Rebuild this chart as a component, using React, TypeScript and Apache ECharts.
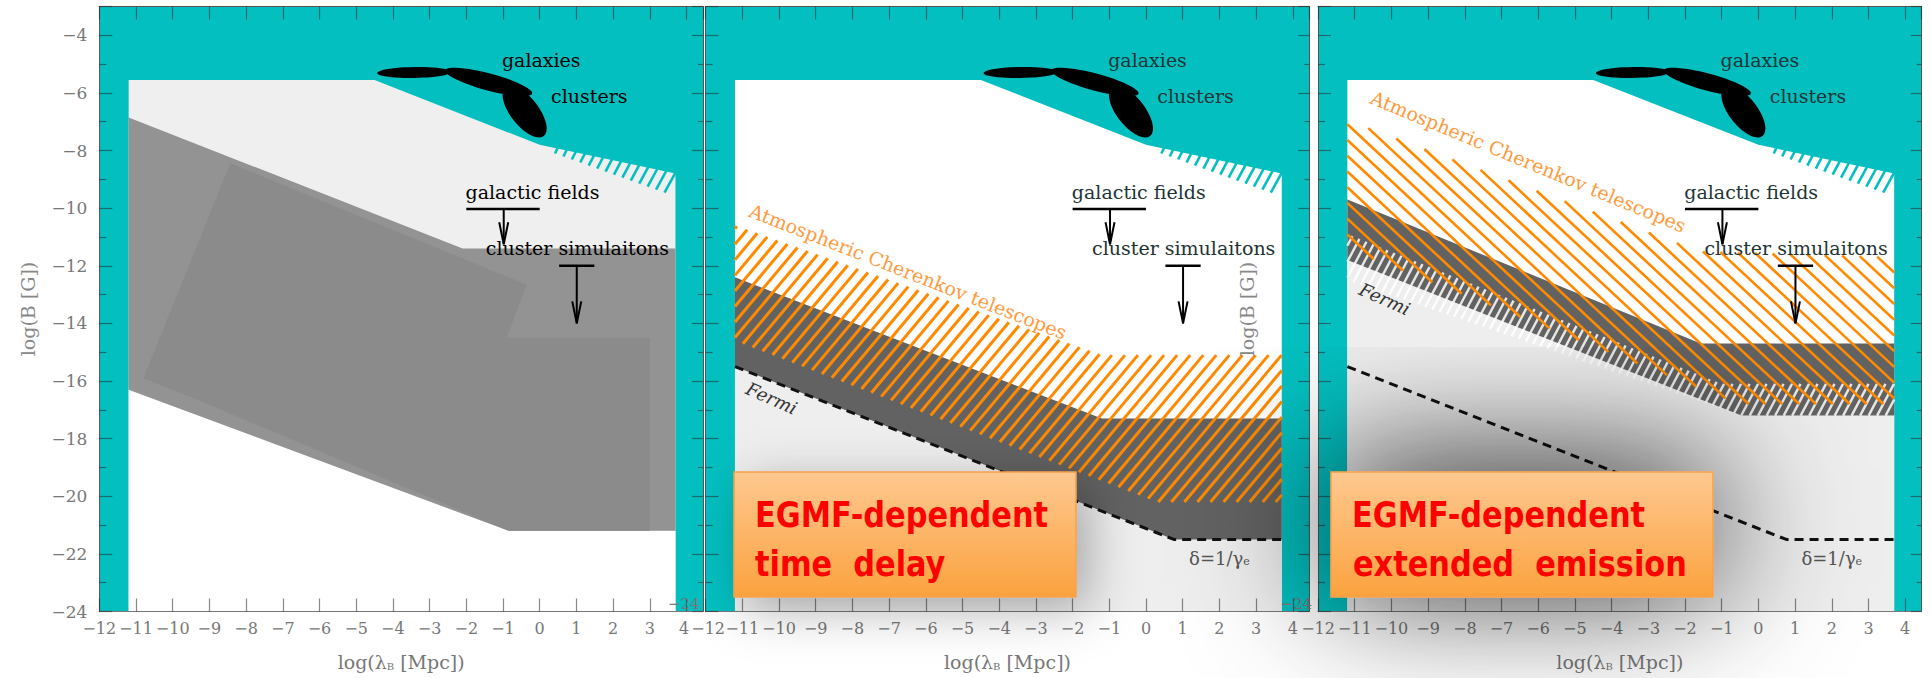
import React, { useEffect, useRef } from 'react';
import * as echarts from 'echarts';

// shared axis ranges: log(lambda_B / Mpc) and log(B / G)
const X_MIN = -12;
const X_MAX = 4.45;
const Y_MIN = -24;
const Y_MAX = -3;

// region not excluded by galaxy / cluster fields
const allowedRegion = [[-11.2, -24], [-11.2, -5.55], [-4.5, -5.55], [0, -7.8], [3.7, -8.8], [3.7, -24]];
// hatched part of the upper limit (cluster fields)
const clusterEdge = [[0, -7.8], [3.7, -8.8]];

// left panel: combined constraint band
const constraintBand = [[-11.2, -6.85], [-2.1, -11.4], [3.7, -11.4], [3.7, -21.2], [-0.85, -21.2], [-11.2, -16.3]];
const constraintCore = [[-8.43, -8.44], [-0.35, -12.66], [-0.9, -14.5], [3.0, -14.5], [3.0, -21.2], [-0.85, -21.2], [-9.23, -16.7], [-10.8, -15.9]];
const belowConstraint = [[-11.2, -16.3], [-0.85, -21.2], [3.7, -21.2], [3.7, -24], [-11.2, -24]];

// Fermi lower limit (delta = 1/gamma_e)
const fermiLimit = [[-11.2, -15.5], [0.76, -21.5], [3.7, -21.5]];
const fermiExcluded = [[-11.2, -15.5], [0.76, -21.5], [3.7, -21.5], [3.7, -24], [-11.2, -24]];

// middle panel: time delay
const delayBand = [[-11.2, -12.4], [-1.2, -17.3], [3.7, -17.3], [3.7, -21.5], [0.76, -21.5], [-11.2, -15.5]];
const delayCherenkov = [[-11.2, -10.6], [-1.2, -15.1], [3.7, -15.1], [3.7, -20.2], [0.3, -20.2], [-11.2, -14.6]];

// right panel: extended emission
const emissionBand = [[-11.2, -9.7], [-1.57, -14.7], [3.7, -14.7], [3.7, -17.2], [-0.46, -17.2], [-11.2, -11.8]];
const emissionStripes = [[-11.2, -10.9], [-1.0, -16.1], [3.7, -16.1], [3.7, -17.2], [-0.46, -17.2], [-11.2, -12.5]];
const emissionBelow = [[-11.2, -11.8], [-0.46, -17.2], [3.7, -17.2], [3.7, -24], [-11.2, -24]];
const emissionCherenkov = [[-11.2, -6.95], [-1.6, -11.5], [3.7, -11.7], [3.7, -16.8], [-0.5, -16.8], [-11.2, -11.4]];

// field labels: [x, y, text]
const fieldLabels: [number, number, string][] = [
  [-1.03, -4.85, 'galaxies'],
  [0.31, -6.12, 'clusters'],
  [-2.02, -9.45, 'galactic fields'],
  [-1.47, -11.39, 'cluster simulaitons'],
];
// upper-limit markers: bar [xFrom, xTo, y], arrow [x, yFrom, yTo]
const limitBars = [[-2.0, 0.0, -10.03], [0.53, 1.49, -12.0]];
const limitArrows = [[-0.98, -10.03, -11.25], [1.01, -12.0, -14.0]];
// galaxy / cluster field blobs: centres [x, y]
const blobCentres = [[-3.42, -5.29], [-1.39, -5.62], [-0.41, -6.65]];

// band labels: [x, y]
const delayCherenkovLabel = [-6.48, -12.2];
const emissionCherenkovLabel = [-6.27, -8.38];
const delayFermiLabel = [-10.2, -16.6];
const emissionFermiLabel = [-10.18, -13.15];
const deltaLabel = [2.0, -22.15];

const TEAL = '#03bfc0';
const ORANGE = '#ff8a00';
const SERIF = '"DejaVu Serif", "Liberation Serif", serif';
const AXIS_GREY = '#777';
const TICK = 'rgba(40,40,40,0.55)';

const GRID_LEFT = [99.3, 705.6, 1318];
const GRID_TOP = 6.5;
const GRID_W = 603.7;
const GRID_H = 605;

type Pt = number[];

function base(g: number, z: number) {
  return { type: 'custom', xAxisIndex: 2 * g, yAxisIndex: 2 * g, z, clip: true, silent: true, data: [[0, -10]] };
}

function polygonSeries(g: number, pts: Pt[], fill: string, z = 1) {
  return {
    ...base(g, z),
    renderItem: (_p: any, api: any) => ({
      type: 'polygon',
      shape: { points: pts.map((p) => api.coord(p)) },
      style: { fill },
    }),
  };
}

// straight hatch lines at a pixel angle, clipped to a polygon
function hatchGroup(P: number[][], angleDeg: number, spacing: number, stroke: string, lineWidth: number) {
  const a = (angleDeg * Math.PI) / 180;
  const d = [Math.cos(a), Math.sin(a)];
  const n = [-d[1], d[0]];
  let cmin = Infinity;
  let cmax = -Infinity;
  P.forEach((p) => {
    const c = p[0] * n[0] + p[1] * n[1];
    cmin = Math.min(cmin, c);
    cmax = Math.max(cmax, c);
  });
  const children: any[] = [];
  for (let c = Math.ceil(cmin / spacing) * spacing; c <= cmax; c += spacing) {
    const o = [n[0] * c, n[1] * c];
    const ts: number[] = [];
    for (let i = 0; i < P.length; i++) {
      const A = P[i];
      const B = P[(i + 1) % P.length];
      const ca = A[0] * n[0] + A[1] * n[1] - c;
      const cb = B[0] * n[0] + B[1] * n[1] - c;
      if (ca < 0 !== cb < 0) {
        const s = ca / (ca - cb);
        const X = A[0] + (B[0] - A[0]) * s;
        const Y = A[1] + (B[1] - A[1]) * s;
        ts.push((X - o[0]) * d[0] + (Y - o[1]) * d[1]);
      }
    }
    ts.sort((u, v) => u - v);
    for (let k = 0; k + 1 < ts.length; k += 2) {
      children.push({
        type: 'line',
        shape: {
          x1: o[0] + d[0] * ts[k], y1: o[1] + d[1] * ts[k],
          x2: o[0] + d[0] * ts[k + 1], y2: o[1] + d[1] * ts[k + 1],
        },
        style: { stroke, lineWidth },
      });
    }
  }
  return { type: 'group', children };
}

function hatchSeries(g: number, pts: Pt[], angle: number, spacing: number, stroke: string, lineWidth: number, z = 2) {
  return {
    ...base(g, z),
    renderItem: (_p: any, api: any) => hatchGroup(pts.map((p) => api.coord(p)), angle, spacing, stroke, lineWidth),
  };
}

// teal comb hanging under the cluster-field limit
function edgeCombSeries(g: number) {
  return {
    ...base(g, 2),
    renderItem: (_p: any, api: any) => {
      const a = api.coord(clusterEdge[0]);
      const b = api.coord(clusterEdge[1]);
      const len = Math.hypot(b[0] - a[0], b[1] - a[1]);
      const n = Math.floor(len / 9);
      const children: any[] = [];
      for (let i = 2; i <= n; i++) {
        const t = i / n;
        const x = a[0] + (b[0] - a[0]) * t;
        const y = a[1] + (b[1] - a[1]) * t;
        const L = 3 + 19 * t;
        children.push({
          type: 'line',
          shape: { x1: x, y1: y - 1, x2: x - 0.5 * L, y2: y + 0.87 * L },
          style: { stroke: TEAL, lineWidth: 2.6 },
        });
      }
      return { type: 'group', children };
    },
  };
}

function blobSeries(g: number) {
  const shapes = [[37, 5.5, 1], [45, 8.5, -15], [31, 14, -52]];
  return {
    ...base(g, 2),
    renderItem: (_p: any, api: any) => ({
      type: 'group',
      children: blobCentres.map((c, i) => {
        const p = api.coord(c);
        const [rx, ry, tilt] = shapes[i];
        return {
          type: 'circle',
          x: p[0], y: p[1], scaleX: rx, scaleY: ry, rotation: (tilt * Math.PI) / 180,
          shape: { cx: 0, cy: 0, r: 1 },
          style: { fill: '#000' },
        };
      }),
    }),
  };
}

function limitSeries(g: number) {
  return {
    ...base(g, 3),
    renderItem: (_p: any, api: any) => {
      const children: any[] = [];
      limitBars.forEach(([x0, x1, y]) => {
        const a = api.coord([x0, y]);
        const b = api.coord([x1, y]);
        children.push({ type: 'line', shape: { x1: a[0], y1: a[1], x2: b[0], y2: b[1] }, style: { stroke: '#000', lineWidth: 2.4 } });
      });
      limitArrows.forEach(([x, y0, y1]) => {
        const a = api.coord([x, y0]);
        const b = api.coord([x, y1]);
        children.push({ type: 'line', shape: { x1: a[0], y1: a[1], x2: b[0], y2: b[1] }, style: { stroke: '#000', lineWidth: 2 } });
        children.push({
          type: 'polyline',
          shape: { points: [[b[0] - 4.5, b[1] - 22], [b[0], b[1]], [b[0] + 4.5, b[1] - 22]] },
          style: { stroke: '#000', lineWidth: 2, fill: 'none' },
        });
      });
      return { type: 'group', children };
    },
  };
}

function fieldLabelSeries(g: number, color: string) {
  return {
    ...base(g, 3),
    clip: false,
    renderItem: (_p: any, api: any) => ({
      type: 'group',
      children: fieldLabels.map(([x, y, text]) => {
        const p = api.coord([x, y]);
        return {
          type: 'text', x: p[0], y: p[1],
          style: { text, fill: color, font: `19px ${SERIF}`, align: 'left', verticalAlign: 'middle' },
        };
      }),
    }),
  };
}

function textSeries(g: number, at: number[], text: string, style: any, rotDeg = 0) {
  return {
    ...base(g, 3),
    renderItem: (_p: any, api: any) => {
      const p = api.coord(at);
      return {
        type: 'text', x: p[0], y: p[1], rotation: (rotDeg * Math.PI) / 180,
        style: { text, align: 'center', verticalAlign: 'middle', ...style },
      };
    },
  };
}

function fermiLineSeries(g: number) {
  return {
    type: 'line', xAxisIndex: 2 * g, yAxisIndex: 2 * g, z: 3, silent: true,
    data: fermiLimit, symbol: 'none', showSymbol: false,
    lineStyle: { color: '#111', width: 3, type: [9, 6] },
  };
}

const deltaText = {
  text: '{a|δ=1/γ}{b|e}',
  rich: {
    a: { fontSize: 18, fontFamily: SERIF, fill: '#555', color: '#555', verticalAlign: 'bottom' },
    b: { fontSize: 11, fontFamily: SERIF, fill: '#555', color: '#555', verticalAlign: 'bottom' },
  },
};

// tick label text; edge labels of neighbouring panels are nudged apart
function xTickLabel(g: number) {
  return (v: number) => {
    if (!Number.isInteger(v)) return '';
    const s = v < 0 ? '−' + -v : String(v);
    if (g === 1 && v === -12) return `{first|${s}}`;
    if (g === 0 && v === 4) return `{last|${s}}`;
    return s;
  };
}

function buildOption() {
  const grid = GRID_LEFT.map((left) => ({
    left, top: GRID_TOP, width: GRID_W, height: GRID_H,
    show: true, backgroundColor: TEAL, borderWidth: 0,
  }));

  const xAxis: any[] = [];
  const yAxis: any[] = [];
  const tickStyle = { color: TICK, width: 1.2 };
  for (let g = 0; g < 3; g++) {
    const common = { type: 'value', gridIndex: g, min: X_MIN, max: X_MAX, interval: 1, z: 4, splitLine: { show: false } };
    xAxis.push({
      ...common, position: 'bottom',
      axisLine: { show: true, onZero: false, lineStyle: { color: AXIS_GREY, width: 1 } },
      axisTick: { show: true, inside: true, length: 13, lineStyle: tickStyle },
      axisLabel: {
        show: true, margin: 9, color: AXIS_GREY, fontSize: 16, fontFamily: SERIF,
        showMinLabel: true, showMaxLabel: false, hideOverlap: false,
        formatter: xTickLabel(g),
        rich: {
          first: { fontSize: 16, fontFamily: SERIF, color: AXIS_GREY, padding: [0, 0, 0, 5] },
          last: { fontSize: 16, fontFamily: SERIF, color: AXIS_GREY, padding: [0, 5, 0, 0] },
        },
      },
      name: '{n|log(λ}{s|B}{n| [Mpc])}', nameLocation: 'middle', nameGap: 41,
      nameTextStyle: {
        rich: {
          n: { fontSize: 19, fontFamily: SERIF, color: AXIS_GREY, verticalAlign: 'bottom' },
          s: { fontSize: 10, fontFamily: SERIF, color: AXIS_GREY, verticalAlign: 'bottom' },
        },
      },
    });
    xAxis.push({
      ...common, position: 'top',
      axisLine: { show: true, onZero: false, lineStyle: { color: '#555', width: 1 } },
      axisTick: { show: true, inside: true, length: 13, lineStyle: tickStyle },
      axisLabel: { show: false },
    });
    const yCommon = { type: 'value', gridIndex: g, min: Y_MIN, max: Y_MAX, interval: 2, z: 4, splitLine: { show: false } };
    yAxis.push({
      ...yCommon, position: 'left',
      axisLine: { show: true, onZero: false, lineStyle: { color: '#555', width: 1 } },
      axisTick: { show: true, inside: true, length: 13, lineStyle: tickStyle },
      minorTick: { show: true, splitNumber: 2, length: 7, lineStyle: tickStyle },
      axisLabel: {
        show: true, margin: g === 0 ? 12 : 6, color: AXIS_GREY, fontSize: g === 0 ? 17 : 15, fontFamily: SERIF,
        showMinLabel: true, showMaxLabel: false,
        verticalAlign: g === 0 ? 'middle' : 'bottom',
        formatter: (v: number) => (g === 0 ? (v % 2 === 0 ? '−' + -v : '') : v === -24 ? '−24' : ''),
      },
      name: g === 1 ? '' : 'log(B [G])', nameLocation: 'middle', nameGap: 62,
      nameTextStyle: { fontSize: 19, fontFamily: SERIF, color: '#888' },
    });
    yAxis.push({
      ...yCommon, position: 'right',
      axisLine: { show: true, onZero: false, lineStyle: { color: '#555', width: 1 } },
      axisTick: { show: true, inside: true, length: 11, lineStyle: tickStyle },
      minorTick: { show: true, splitNumber: 2, length: 5, lineStyle: tickStyle },
      axisLabel: { show: false },
    });
  }

  const cherenkovStyle = { fill: '#ff9a3c', font: `19px ${SERIF}` };
  const fermiStyle = { fill: '#333', font: `italic 18px ${SERIF}` };

  const series: any[] = [
    // left panel
    polygonSeries(0, allowedRegion, '#efefef'),
    polygonSeries(0, belowConstraint, '#ffffff'),
    polygonSeries(0, constraintBand, '#939393'),
    polygonSeries(0, constraintCore, '#8b8b8b'),
    edgeCombSeries(0),
    blobSeries(0),
    fieldLabelSeries(0, '#000'),
    limitSeries(0),

    // middle panel
    polygonSeries(1, allowedRegion, '#ffffff'),
    polygonSeries(1, fermiExcluded, '#eeeeee'),
    polygonSeries(1, delayBand, '#626262'),
    hatchSeries(1, delayCherenkov, -50, 10, ORANGE, 3),
    fermiLineSeries(1),
    edgeCombSeries(1),
    blobSeries(1),
    fieldLabelSeries(1, '#1d3434'),
    limitSeries(1),
    textSeries(1, delayCherenkovLabel, 'Atmospheric Cherenkov telescopes', cherenkovStyle, -21.4),
    textSeries(1, delayFermiLabel, 'Fermi', fermiStyle, -24),
    textSeries(1, deltaLabel, deltaText.text, { rich: deltaText.rich }),

    // right panel
    polygonSeries(2, allowedRegion, '#ffffff'),
    polygonSeries(2, emissionBelow, '#eeeeee'),
    polygonSeries(2, emissionBand, '#626262'),
    hatchSeries(2, emissionStripes, -62, 7.5, 'rgba(255,255,255,0.85)', 2.4),
    hatchSeries(2, emissionCherenkov, 43, 11.5, ORANGE, 2.6),
    fermiLineSeries(2),
    edgeCombSeries(2),
    blobSeries(2),
    fieldLabelSeries(2, '#1d3434'),
    limitSeries(2),
    textSeries(2, emissionCherenkovLabel, 'Atmospheric Cherenkov telescopes', cherenkovStyle, -22.5),
    textSeries(2, emissionFermiLabel, 'Fermi', fermiStyle, -24),
    textSeries(2, deltaLabel, deltaText.text, { rich: deltaText.rich }),
  ];

  const boxFill = {
    type: 'linear', x: 0, y: 0, x2: 0, y2: 1,
    colorStops: [{ offset: 0, color: '#fec890' }, { offset: 1, color: '#fba23e' }],
  };
  const boxText = (x: number, y: number, text: string) => ({
    type: 'text', x, y, z: 101, scaleX: 0.98, scaleY: 1.12,
    style: { text, fill: '#ff0000', font: `bold 31px "DejaVu Sans", sans-serif`, align: 'left', verticalAlign: 'middle' },
  });

  const graphic = [
    {
      type: 'rect', x: 734, y: 472, z: 100,
      shape: { width: 342, height: 125 },
      style: { fill: boxFill, stroke: '#f7a04a', lineWidth: 1.5, shadowBlur: 50, shadowColor: 'rgba(0,0,0,0.3)', shadowOffsetX: 12, shadowOffsetY: 12 },
    },
    boxText(755, 515, 'EGMF-dependent'),
    boxText(755, 564, 'time  delay'),
    {
      type: 'rect', x: 1331, y: 472, z: 100,
      shape: { width: 382, height: 125 },
      style: { fill: boxFill, stroke: '#f7a04a', lineWidth: 1.5, shadowBlur: 140, shadowColor: 'rgba(0,0,0,0.85)', shadowOffsetX: 0, shadowOffsetY: -10 },
    },
    boxText(1352, 515, 'EGMF-dependent'),
    boxText(1353, 564, 'extended  emission'),
  ];

  return { animation: false, grid, xAxis, yAxis, series, graphic };
}

export default function App() {
  const ref = useRef<HTMLDivElement>(null);
  useEffect(() => {
    const chart = echarts.init(ref.current!, null, { renderer: 'svg' });
    chart.setOption(buildOption() as any);
    return () => chart.dispose();
  }, []);
  return <div ref={ref} style={{ position: 'absolute', left: 0, top: 0, width: 1931, height: 678 }} />;
}
